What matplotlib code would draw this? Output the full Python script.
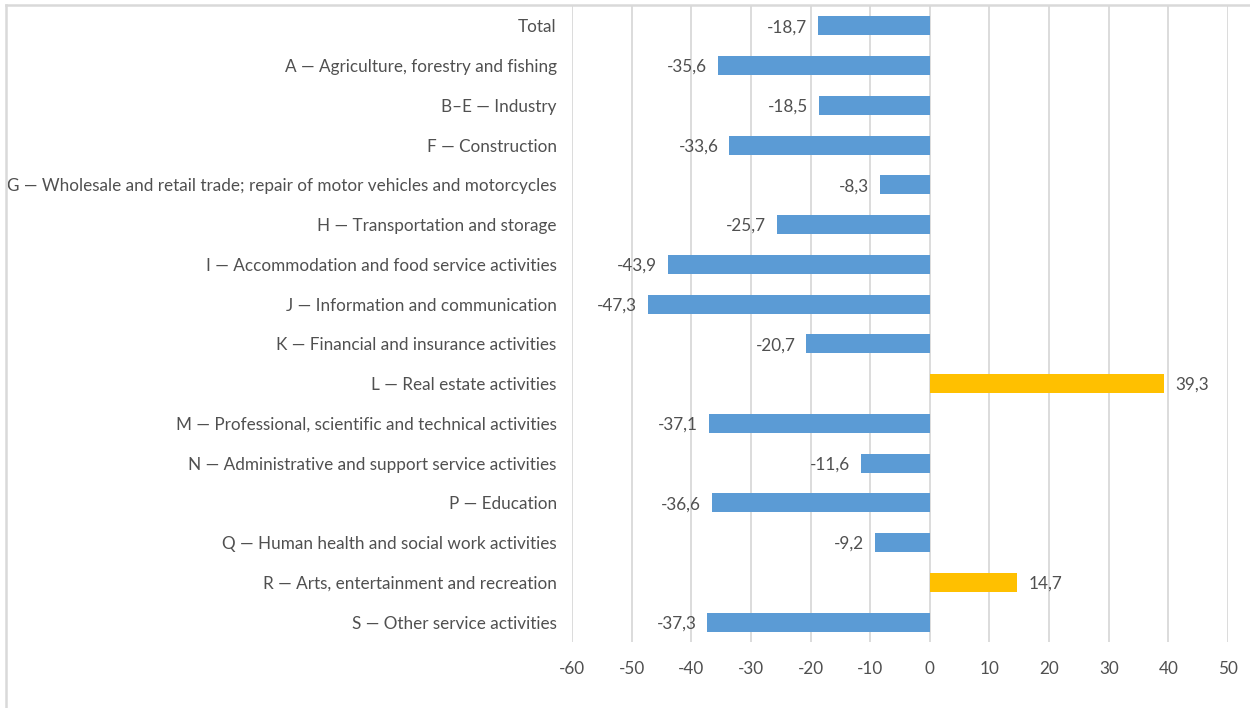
import matplotlib
matplotlib.use("Agg")
import matplotlib.pyplot as plt
from matplotlib.lines import Line2D

categories = [
    "Total",
    "A — Agriculture, forestry and fishing",
    "B–E — Industry",
    "F — Construction",
    "G — Wholesale and retail trade; repair of motor vehicles and motorcycles",
    "H — Transportation and storage",
    "I — Accommodation and food service activities",
    "J — Information and communication",
    "K — Financial and insurance activities",
    "L — Real estate activities",
    "M — Professional, scientific and technical activities",
    "N — Administrative and support service activities",
    "P — Education",
    "Q — Human health and social work activities",
    "R — Arts, entertainment and recreation",
    "S — Other service activities",
]
values = [-18.7, -35.6, -18.5, -33.6, -8.3, -25.7, -43.9, -47.3, -20.7,
          39.3, -37.1, -11.6, -36.6, -9.2, 14.7, -37.3]
x_ticks = [-60, -50, -40, -30, -20, -10, 0, 10, 20, 30, 40, 50]

BLUE = "#5B9BD5"
GOLD = "#FFC000"
TXT = "#505050"

plt.rcParams['font.family'] = ['Lato', 'DejaVu Sans']

fig = plt.figure(figsize=(12.5, 7.08), dpi=100)
ax = fig.add_axes([572/1250, 1-642/708, (1228-572)/1250, (642-6)/708])

ypos = list(range(len(categories)))
colors = [GOLD if v > 0 else BLUE for v in values]
ax.barh(ypos, values, height=0.48, color=colors, zorder=3)
ax.set_ylim(len(categories)-0.5, -0.5)
ax.set_xlim(-60, 50)
ax.set_xticks(x_ticks)
ax.set_xticklabels([str(t) for t in x_ticks])
ax.set_yticks(ypos)
ax.set_yticklabels(categories)
ax.tick_params(axis='both', length=0, labelsize=12.3, colors=TXT)
ax.tick_params(axis='y', pad=11)
ax.tick_params(axis='x', pad=14)
ax.grid(axis='x', color='#d9d9d9', linewidth=1.3, zorder=0)
for s in ax.spines.values():
    s.set_visible(False)

for y, v in zip(ypos, values):
    lab = f"{v:.1f}".replace('.', ',')
    if v < 0:
        ax.annotate(lab, (v, y), xytext=(-8, -1), textcoords='offset points',
                    ha='right', va='center', fontsize=12.3, color=TXT)
    else:
        ax.annotate(lab, (v, y), xytext=(8, -1), textcoords='offset points',
                    ha='left', va='center', fontsize=12.3, color=TXT)

fig.add_artist(Line2D([6/1250, 6/1250], [0, 1-5/708], transform=fig.transFigure,
                      color='#d9d9d9', linewidth=1.8))
fig.add_artist(Line2D([6/1250, 1], [1-5/708, 1-5/708], transform=fig.transFigure,
                      color='#d9d9d9', linewidth=1.8))

fig.savefig("out.png", dpi=100, facecolor='white')
